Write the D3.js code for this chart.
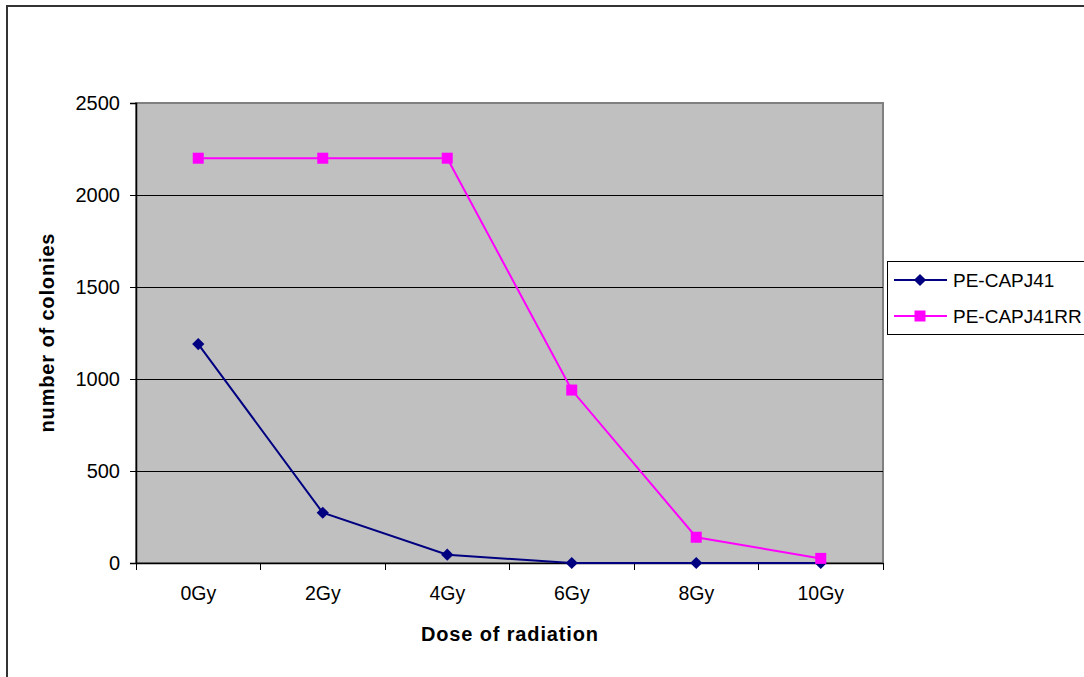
<!DOCTYPE html>
<html><head><meta charset="utf-8">
<script src="https://cdn.jsdelivr.net/npm/d3@7"></script>
<style>body{margin:0;background:#fff}svg{display:block}text{font-family:"Liberation Sans",Arial,sans-serif}</style>
</head><body>
<script>
const categories = ["0Gy","2Gy","4Gy","6Gy","8Gy","10Gy"];
const seriesNames = ["PE-CAPJ41","PE-CAPJ41RR"];
const valuesA = [1190, 273, 45, 0, 0, 0];
const valuesB = [2200, 2200, 2200, 940, 140, 25];
const yTicks = [0, 500, 1000, 1500, 2000, 2500];
const colors = ["#000080", "#FF00FF"];

const W = 1084, H = 677;
const svg = d3.select("body").append("svg").attr("width", W).attr("height", H);

// outer chart border
svg.append("rect").attr("x", 7).attr("y", 6).attr("width", 1100).attr("height", 700)
  .attr("fill", "#fff").attr("stroke", "#333").attr("stroke-width", 2);

const L = 136, R = 883, T = 103, B = 563;
const x = d3.scaleBand().domain(categories).range([L, R]);
const y = d3.scaleLinear().domain([0, 2500]).range([B, T]);

// plot area
svg.append("rect").attr("x", L).attr("y", T).attr("width", R - L).attr("height", B - T)
  .attr("fill", "#C0C0C0").attr("stroke", "#808080").attr("stroke-width", 2)
  .attr("shape-rendering", "crispEdges");

// gridlines
svg.append("g").attr("shape-rendering", "crispEdges").selectAll("line")
  .data(yTicks.filter(d => d > 0 && d < 2500)).join("line")
  .attr("x1", L).attr("x2", R).attr("y1", d => y(d) + 0.5).attr("y2", d => y(d) + 0.5)
  .attr("stroke", "#000").attr("stroke-width", 1);

const fam = '"Liberation Sans",Arial,sans-serif';

// y axis
const yAxis = svg.append("g").attr("transform", `translate(${L},0)`)
  .call(d3.axisLeft(y).tickValues(yTicks).tickSize(6).tickPadding(10).tickFormat(d3.format("d")));
yAxis.select(".domain").attr("stroke", "#000").attr("stroke-width", 1.5);
yAxis.selectAll(".tick line").attr("stroke", "#000").attr("shape-rendering", "crispEdges");
yAxis.selectAll("text").attr("font-size", 20).attr("fill", "#000").style("font-family", fam);

// x axis
const xAxis = svg.append("g").attr("transform", `translate(0,${B})`)
  .call(d3.axisBottom(x).tickSize(0).tickPadding(23));
xAxis.select(".domain").attr("stroke", "#000").attr("stroke-width", 1.5);
xAxis.selectAll("text").attr("font-size", 19.5).attr("fill", "#000").style("font-family", fam);
// boundary ticks
const bounds = categories.map(c => x(c)).concat([R]);
svg.append("g").attr("shape-rendering", "crispEdges").selectAll("line").data(bounds).join("line")
  .attr("x1", d => d).attr("x2", d => d).attr("y1", B).attr("y2", B + 7)
  .attr("stroke", "#000").attr("stroke-width", 1);

// axis titles
svg.append("text").attr("x", (L + R) / 2).attr("y", 641).attr("text-anchor", "middle")
  .attr("font-size", 20).attr("font-weight", "bold").attr("textLength", 177).attr("lengthAdjust", "spacing")
  .text("Dose of radiation");
svg.append("text").attr("transform", `translate(54,${(T + B) / 2}) rotate(-90)`).attr("text-anchor", "middle")
  .attr("font-size", 20).attr("font-weight", "bold").attr("textLength", 199).attr("lengthAdjust", "spacing")
  .text("number of colonies");

// series
const cx = c => x(c) + x.bandwidth() / 2;
const line = d3.line().x(d => cx(d.c)).y(d => y(d.v));
const series = [valuesA, valuesB].map((vals, i) => ({ name: seriesNames[i], color: colors[i],
  pts: vals.map((v, j) => ({ c: categories[j], v })) }));

series.forEach((s, i) => {
  const g = svg.append("g");
  g.append("path").attr("d", line(s.pts)).attr("fill", "none").attr("stroke", s.color).attr("stroke-width", 2);
  if (i === 0) {
    g.selectAll("path.m").data(s.pts).join("path").attr("class", "m")
      .attr("d", d3.symbol(d3.symbolDiamond2, 95)())
      .attr("transform", d => `translate(${cx(d.c)},${y(d.v)})`).attr("fill", s.color);
  } else {
    g.selectAll("rect.m").data(s.pts).join("rect").attr("class", "m")
      .attr("x", d => cx(d.c) - 5.5).attr("y", d => y(d.v) - 5.5).attr("width", 11).attr("height", 11)
      .attr("fill", s.color);
  }
});

// legend
const lg = svg.append("g");
lg.append("rect").attr("x", 887).attr("y", 261).attr("width", 230).attr("height", 73)
  .attr("fill", "#fff").attr("stroke", "#000").attr("stroke-width", 1).attr("shape-rendering", "crispEdges");
series.forEach((s, i) => {
  const yy = 280 + i * 36;
  lg.append("line").attr("x1", 894).attr("x2", 947).attr("y1", yy).attr("y2", yy)
    .attr("stroke", s.color).attr("stroke-width", 2);
  if (i === 0) {
    lg.append("path").attr("d", d3.symbol(d3.symbolDiamond2, 95)()).attr("transform", `translate(920,${yy})`).attr("fill", s.color);
  } else {
    lg.append("rect").attr("x", 914.5).attr("y", yy - 5.5).attr("width", 11).attr("height", 11).attr("fill", s.color);
  }
  lg.append("text").attr("x", 953).attr("y", yy + 7).attr("font-size", 19).style("font-family", fam).text(s.name);
});
</script>
</body></html>
